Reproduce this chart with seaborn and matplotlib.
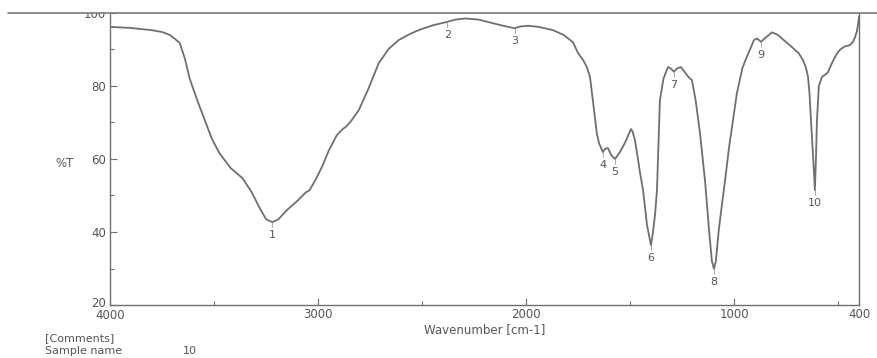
import numpy as np
import pandas as pd
import seaborn as sns
import matplotlib
matplotlib.use("Agg")
import matplotlib.pyplot as plt
import matplotlib.transforms as mtransforms
from matplotlib.lines import Line2D
from matplotlib.patches import Rectangle
from matplotlib.ticker import FixedLocator

# IR spectrum: wavenumber [cm-1] vs %T
wavenumber = [
    4000, 3900, 3800, 3750, 3713, 3690, 3665, 3640, 3617, 3580, 3545, 3510, 3474,
    3420, 3364, 3320, 3280, 3250, 3220, 3190, 3150, 3100, 3060, 3040, 3010, 2980,
    2947, 2910, 2880, 2866, 2840, 2804, 2760, 2708, 2660, 2612, 2560, 2517, 2450,
    2378, 2340, 2292, 2230, 2167, 2110, 2054, 2030, 1990, 1940, 1871, 1820, 1775,
    1750, 1725, 1708, 1693, 1679, 1660, 1650, 1631, 1620, 1607, 1590, 1573, 1550,
    1525, 1496, 1488, 1477, 1465, 1453, 1438, 1419, 1400, 1390, 1380, 1371, 1357,
    1340, 1318, 1305, 1289, 1275, 1256, 1240, 1220, 1203, 1185, 1164, 1140, 1120,
    1107, 1097, 1088, 1075, 1060, 1044, 1025, 1005, 987, 960, 939, 920, 905, 890,
    871, 850, 818, 790, 760, 725, 690, 669, 655, 645, 638, 631, 620, 612, 607, 602,
    593, 578, 560, 549, 530, 510, 492, 470, 444, 430, 420, 410, 405, 400,
]
transmittance = [
    96.2, 95.9, 95.3, 94.8, 94.0, 93.0, 91.8, 87.5, 82.0, 76.0, 70.7, 65.5, 61.6,
    57.5, 54.8, 51.0, 46.5, 43.5, 42.7, 43.5, 46.0, 48.5, 50.8, 51.5, 54.5, 58.0,
    62.5, 66.5, 68.3, 68.8, 70.5, 73.4, 79.0, 86.3, 90.2, 92.6, 94.2, 95.3, 96.6,
    97.6, 98.2, 98.5, 98.2, 97.3, 96.5, 95.8, 96.3, 96.5, 96.2, 95.3, 94.0, 92.0,
    89.0, 87.0, 85.2, 82.5, 76.0, 67.0, 64.4, 61.9, 62.8, 63.0, 61.0, 60.0, 61.8,
    64.4, 68.2, 67.5, 65.2, 61.0, 56.4, 51.5, 42.0, 36.4, 40.0, 45.0, 51.5, 76.0,
    82.0, 85.2, 84.8, 83.9, 84.8, 85.2, 84.0, 82.5, 81.6, 76.0, 67.0, 54.0, 40.0,
    32.0, 29.9, 32.0, 40.0, 47.0, 54.0, 63.0, 71.0, 78.0, 85.0, 88.0, 90.5, 92.6, 93.0,
    92.1, 93.2, 94.7, 94.0, 92.5, 90.8, 89.0, 87.1, 85.0, 82.5, 78.0, 70.7, 60.0, 51.5, 60.0, 70.7,
    80.0, 82.5, 83.2, 83.8, 86.3, 88.5, 89.9, 90.8, 91.2, 92.0, 93.2, 95.0, 96.7, 99.0,
]

# numbered peak picks
peak_wn = [3220, 2378, 2054, 1631, 1573, 1400, 1289, 1097, 871, 612]
peak_T = [42.7, 97.6, 95.8, 61.9, 60.0, 36.4, 83.9, 29.9, 92.1, 51.5]
peak_labels = ["1", "2", "3", "4", "5", "6", "7", "8", "9", "10"]

x_major = [4000, 3000, 2000, 1000, 400]
x_minor = [3500, 2500, 1500, 500]
y_major = [20, 40, 60, 80, 100]
y_minor = [30, 50, 70, 90]

sns.set_theme(style="white")
plt.rcParams["font.family"] = ["DejaVu Sans"]

INK = "#6f6f6f"
TXT = "#555555"
W, H = 877, 358

fig = plt.figure(figsize=(W / 100, H / 100), dpi=100)
fig.patch.set_facecolor("white")
ax = fig.add_axes([110 / W, 1 - 305 / H, (859 - 110) / W, (305 - 13) / H])
ax.set_facecolor("none")

df = pd.DataFrame({"wn": wavenumber, "T": transmittance})
sns.lineplot(data=df, x="wn", y="T", ax=ax, color=INK, linewidth=1.3,
             sort=False, estimator=None)

ax.set_xlim(4000, 400)
ax.set_ylim(20, 100)
ax.xaxis.set_major_locator(FixedLocator(x_major))
ax.xaxis.set_minor_locator(FixedLocator(x_minor))
ax.yaxis.set_major_locator(FixedLocator(y_major))
ax.yaxis.set_minor_locator(FixedLocator(y_minor))
ax.set_xticklabels([str(v) for v in x_major])
ax.set_yticklabels([str(v) for v in y_major])
ax.tick_params(axis="both", which="major", direction="in", length=5, width=0.8,
               color=INK, labelsize=8.5, labelcolor=TXT, pad=3,
               bottom=True, left=True)
ax.tick_params(axis="both", which="minor", direction="in", length=3, width=0.8,
               color=INK, bottom=True, left=True)
ax.tick_params(axis="x", pad=2)

# the corner labels "20" and "4000" sit stacked; nudge them apart
fig.canvas.draw()
ylab20 = ax.get_yticklabels()[0]
ylab20.set_transform(ylab20.get_transform() +
                     mtransforms.ScaledTranslation(0, 3 / 100, fig.dpi_scale_trans))
xlab4000 = ax.get_xticklabels()[0]
xlab4000.set_transform(xlab4000.get_transform() +
                       mtransforms.ScaledTranslation(0, -1 / 100, fig.dpi_scale_trans))

for side in ["left", "bottom", "right"]:
    ax.spines[side].set_visible(True)
    ax.spines[side].set_color(INK)
    ax.spines[side].set_linewidth(1.0)
ax.spines["top"].set_visible(False)

ax.set_xlabel("Wavenumber [cm-1]", fontsize=8.5, color=TXT, labelpad=1)
ax.set_ylabel("")

# peak markers and numbers
for wn, t, lab in zip(peak_wn, peak_T, peak_labels):
    ax.plot([wn, wn], [t, t - 1.4], color="#9a9a9a", linewidth=0.6)
    ax.annotate(lab, xy=(wn, t), xytext=(0, -13), textcoords="offset pixels",
                ha="center", va="center", fontsize=8, color=TXT)

fig.text(55 / W, 1 - 163 / H, "%T", fontsize=8.5, color=TXT, ha="left", va="center")
fig.text(45 / W, 1 - 338 / H, "[Comments]", fontsize=8, color=TXT, ha="left", va="center")
fig.text(45 / W, 1 - 351 / H, "Sample name", fontsize=8, color=TXT, ha="left", va="center")
fig.text(183 / W, 1 - 351 / H, "10", fontsize=8, color=TXT, ha="left", va="center")

# sheet edge across the top
fig.add_artist(Rectangle((0, 1 - 13 / H), 1, 13 / H, transform=fig.transFigure,
                         facecolor="white", edgecolor="none", zorder=10))
fig.add_artist(Line2D([8 / W, 1], [1 - 13 / H, 1 - 13 / H], transform=fig.transFigure,
                      color="#7a7a7a", linewidth=1.2, zorder=11))

fig.savefig("out.png", dpi=100, facecolor="white")
